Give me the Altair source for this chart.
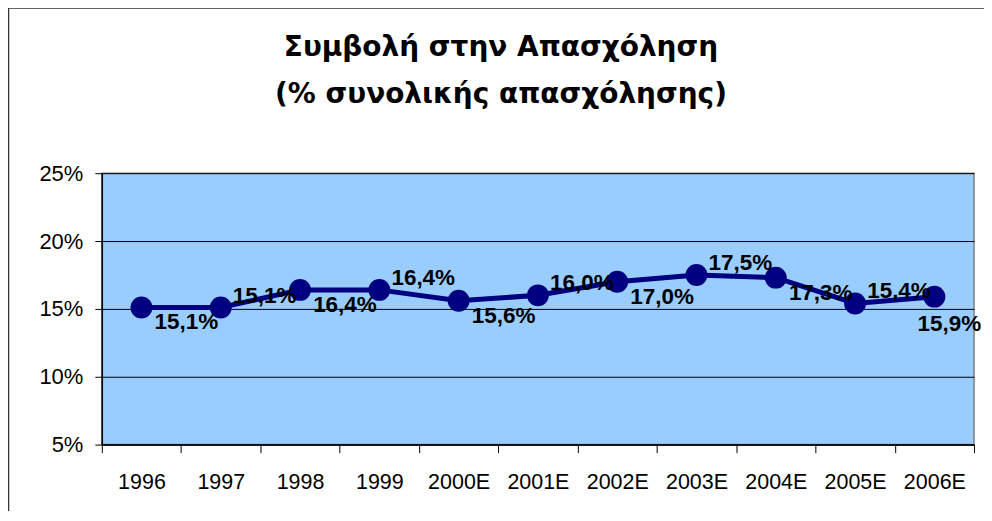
import altair as alt
import pandas as pd

years = ["1996", "1997", "1998", "1999", "2000E", "2001E", "2002E", "2003E", "2004E", "2005E", "2006E"]
values = [15.1, 15.1, 16.4, 16.4, 15.6, 16.0, 17.0, 17.5, 17.3, 15.4, 15.9]
title_lines = ["Συμβολή στην Απασχόληση", "(% συνολικής απασχόλησης)"]
y_ticks = [5, 10, 15, 20, 25]

df = pd.DataFrame({"year": years, "v": values, "i": list(range(len(years)))})

W, H = 874, 272
FONT = "Liberation Sans"

x = alt.X("year:N", sort=years, title=None,
          scale=alt.Scale(paddingInner=0, paddingOuter=0),
          axis=alt.Axis(labelAngle=0, labelFont=FONT, labelFontSize=21.5, labelColor="black",
                        labelPadding=19, tickBand="extent", tickSize=8, tickColor="black",
                        domainColor="black", domainWidth=1.5, labelFlush=False))
y = alt.Y("v:Q", title=None,
          scale=alt.Scale(domain=[5, 25], nice=False, zero=False),
          axis=alt.Axis(values=y_ticks, labelExpr="datum.value + '%'", labelFont=FONT,
                        labelFontSize=22, labelColor="black", labelPadding=12,
                        tickSize=7, tickColor="black", domainColor="black", domainWidth=1.5,
                        grid=True, gridColor="black", gridWidth=1))

base = alt.Chart(df)

line = base.mark_line(color="#000080", strokeWidth=5).encode(x=x, y=y)
pts = base.mark_circle(color="#000080", size=480, opacity=1).encode(x=x, y=y)

label_expr = "replace(format(datum.v, '.1f'), '.', ',') + '%'"
lab_style = dict(font=FONT, fontSize=22.5, fontWeight="bold", color="black", baseline="middle")
below = base.transform_filter("datum.i % 2 == 0 && datum.i < 10").transform_calculate(
    lab=label_expr).mark_text(dx=45, dy=15, **lab_style).encode(x=x, y=y, text="lab:N")
above = base.transform_filter("datum.i % 2 == 1").transform_calculate(
    lab=label_expr).mark_text(dx=44, dy=-12, **lab_style).encode(x=x, y=y, text="lab:N")
last = base.transform_filter("datum.i == 10").transform_calculate(
    lab=label_expr).mark_text(dx=15, dy=27, **lab_style).encode(x=x, y=y, text="lab:N")

one = pd.DataFrame({"k": [0]})
title_style = dict(font="DejaVu Sans", fontSize=28, fontWeight="bold", color="black",
                   baseline="middle", align="center")
t1 = alt.Chart(one).mark_text(**title_style).encode(
    x=alt.value(400), y=alt.value(-125), text=alt.value(title_lines[0]))
t2 = alt.Chart(one).mark_text(**title_style).encode(
    x=alt.value(400), y=alt.value(-78), text=alt.value(title_lines[1]))

# outer chart frame
frame_left = alt.Chart(one).mark_rule(color="#333333", strokeWidth=2.5).encode(
    x=alt.value(-94), y=alt.value(-166), y2=alt.value(360))
frame_top = alt.Chart(one).mark_rule(color="#333333", strokeWidth=2.5).encode(
    x=alt.value(-94), x2=alt.value(900), y=alt.value(-166))

chart = alt.layer(line, pts, below, above, last, t1, t2, frame_left, frame_top).properties(
    width=W, height=H,
    autosize=alt.AutoSizeParams(type="none"),
    padding={"left": 94, "top": 165, "right": 10, "bottom": 66},
).configure_view(fill="#99CCFF", stroke="#808080", strokeWidth=1.5)

chart.save("out.html", embed_options={"renderer": "svg", "actions": False})
